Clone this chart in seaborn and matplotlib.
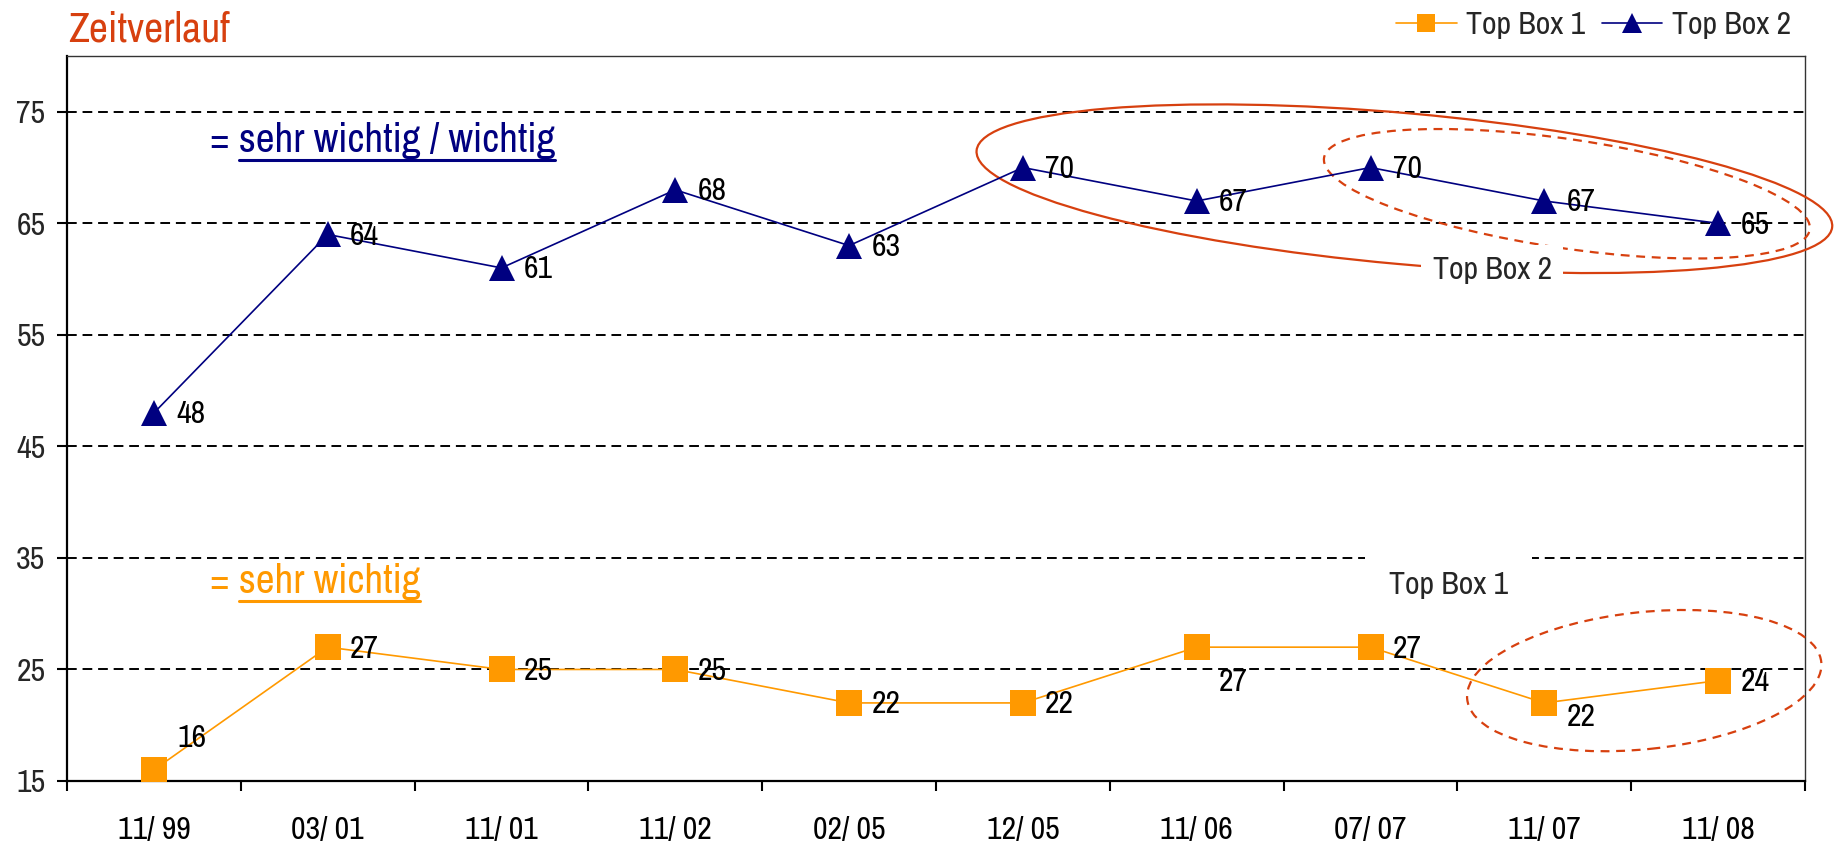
import numpy as np
import pandas as pd
import matplotlib
matplotlib.use("Agg")
import matplotlib.pyplot as plt
import seaborn as sns
from matplotlib.patches import Ellipse
from matplotlib.lines import Line2D
from matplotlib.transforms import IdentityTransform

# ---- data ----
periods = ["11/ 99", "03/ 01", "11/ 01", "11/ 02", "02/ 05", "12/ 05", "11/ 06", "07/ 07", "11/ 07", "11/ 08"]
top_box_1 = [16, 27, 25, 25, 22, 22, 27, 27, 22, 24]
top_box_2 = [48, 64, 61, 68, 63, 70, 67, 70, 67, 65]
series_names = ["Top Box 1", "Top Box 2"]
y_ticks = [15, 25, 35, 45, 55, 65, 75]

ORANGE = "#FF9900"
NAVY = "#000080"
RED = "#D7400F"
FS = 23

sns.set_theme(style="white")
plt.rcParams["font.family"] = ["Liberation Sans Narrow", "Nimbus Sans Narrow", "Archivo Narrow",
                               "Liberation Sans", "DejaVu Sans"]

df = pd.DataFrame({
    "period": periods * 2,
    "value": top_box_1 + top_box_2,
    "series": [series_names[0]] * len(periods) + [series_names[1]] * len(periods),
})

fig = plt.figure(figsize=(18.36, 8.43), dpi=100)
ax = fig.add_axes([67 / 1836, 1 - 781 / 843, (1805 - 67) / 1836, (781 - 56) / 843])

sns.lineplot(data=df, x="period", y="value", hue="series", style="series",
             markers={"Top Box 1": "s", "Top Box 2": "^"}, dashes=False,
             palette={"Top Box 1": ORANGE, "Top Box 2": NAVY},
             markersize=19, markeredgewidth=0, linewidth=1.2, legend=False, ax=ax, zorder=5)

ax.set_xlim(-0.5, len(periods) - 0.5)
ax.set_ylim(15, 80)
ax.set_xlabel("")
ax.set_ylabel("")

# axes styling
ax.set_yticks(y_ticks)
ax.set_yticklabels([str(v) for v in y_ticks])
ax.set_xticks(range(len(periods)))
ax.set_xticklabels(periods)
ax.set_xticks(np.arange(-0.5, len(periods), 1.0), minor=True)
ax.tick_params(axis="x", which="major", length=0, pad=25, labelsize=FS, colors="black")
ax.tick_params(axis="x", which="minor", length=7.5, width=1.5, direction="out", color="black", bottom=True)
ax.tick_params(axis="y", which="major", length=7.5, width=1.5, direction="out", pad=8,
               labelsize=FS, color="black", left=True)
for side in ["left", "bottom"]:
    ax.spines[side].set_color("black")
    ax.spines[side].set_linewidth(1.6)
for side in ["top", "right"]:
    ax.spines[side].set_color("#333333")
    ax.spines[side].set_linewidth(1.0)
ax.yaxis.grid(True, color="black", linestyle=(0, (5, 3)), linewidth=1.4)
ax.xaxis.grid(False)
ax.set_axisbelow(True)

# data labels
for i, v in enumerate(top_box_2):
    ax.annotate(str(v), (i, v), xytext=(16, -1), textcoords="offset points",
                ha="left", va="center", fontsize=FS, color="black", zorder=6)
offsets_1 = {0: (17, 23), 6: (16, -25), 8: (16, -10)}
for i, v in enumerate(top_box_1):
    dx, dy = offsets_1.get(i, (16, -1))
    ax.annotate(str(v), (i, v), xytext=(dx, dy), textcoords="offset points",
                ha="left", va="center", fontsize=FS, color="black", zorder=6)

# title
fig.text(68 / 1836, 1 - 42 / 843, "Zeitverlauf", fontsize=30, color=RED, ha="left", va="baseline")

# legend
handles = [
    Line2D([0], [0], color=ORANGE, lw=1.2, marker="s", markersize=13, markeredgewidth=0),
    Line2D([0], [0], color=NAVY, lw=1.2, marker="^", markersize=14, markeredgewidth=0),
]
fig.legend(handles, series_names, loc="center left", bbox_to_anchor=(1396 / 1836, 1 - 25 / 843),
           ncol=2, frameon=False, handlelength=1.9, handletextpad=0.3, columnspacing=0.5,
           borderpad=0, borderaxespad=0, fontsize=FS)

# annotation texts with white background
ax.text(7.45, 32.6, "Top Box 1", fontsize=FS, ha="center", va="center", zorder=4,
        bbox=dict(boxstyle="square,pad=0.75", fc="white", ec="none"))
ax.text(7.70, 60.8, "Top Box 2", fontsize=FS, ha="center", va="center", zorder=8,
        bbox=dict(boxstyle="square,pad=0.35", fc="white", ec="none"))

# underlined explanation texts
fig.canvas.draw()
renderer = fig.canvas.get_renderer()

def underlined(x, y, prefix, body, color):
    full = ax.text(x, y, prefix + body, fontsize=29.5, color=color, ha="left", va="baseline", zorder=7)
    part = ax.text(x, y, body, fontsize=29.5, color=color, ha="left", va="baseline", alpha=0)
    bb_full = full.get_window_extent(renderer)
    bb_part = part.get_window_extent(renderer)
    part.remove()
    base = ax.transData.transform((x, y))[1]
    x1 = bb_full.x1
    x0 = x1 - bb_part.width
    ln = Line2D([x0, x1], [base - 8, base - 8], color=color, lw=2.2,
                transform=IdentityTransform(), clip_on=False, zorder=7)
    ax.add_artist(ln)

underlined(0.322, 71.35, "= ", "sehr wichtig / wichtig", NAVY)
underlined(0.322, 31.83, "= ", "sehr wichtig", ORANGE)

# ellipses (centers anchored to data, sizes in pixels)
def ring(xd, yd, w, h, ang, ls):
    cx, cy = ax.transData.transform((xd, yd))
    e = Ellipse((cx, cy), w, h, angle=ang, fill=False, edgecolor=RED, lw=1.6,
                linestyle=ls, transform=IdentityTransform(), clip_on=False, zorder=3)
    ax.add_patch(e)

ring(7.195, 68.1, 859, 151, -5.1, "-")
ring(8.13, 67.65, 491, 109, -8.4, (0, (4, 3)))
ring(8.575, 24.0, 356, 137, 6.0, (0, (4, 3)))

fig.savefig("out.png", dpi=100)
